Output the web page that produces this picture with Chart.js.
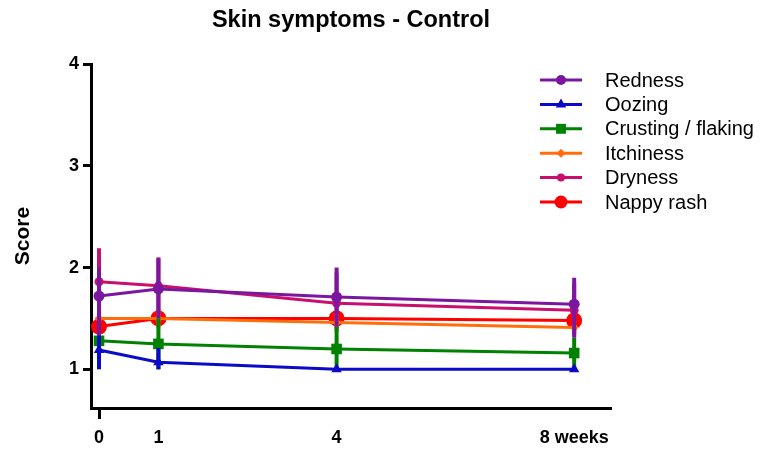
<!DOCTYPE html>
<html><head><meta charset="utf-8">
<script src="https://cdn.jsdelivr.net/npm/chart.js@4.4.1/dist/chart.umd.min.js"></script>
<style>html,body{margin:0;padding:0;background:#fff}</style>
</head><body>
<canvas id="c" width="762" height="449"></canvas>
<script>
// ---- data ----
const weeks = [0, 1, 4, 8];
const xTickLabels = ['0', '1', '4', '8 weeks'];
const yTickValues = [1, 2, 3, 4];
const seriesNames = ['Redness', 'Oozing', 'Crusting / flaking', 'Itchiness', 'Dryness', 'Nappy rash'];

const redness   = [1.72, 1.79, 1.71, 1.64];
const rednessHi = [2.00, 2.09, 2.00, 1.90];
const rednessLo = [1.33, 1.50, 1.42, 1.31];

const oozing    = [1.19, 1.07, 1.00, 1.00];
const oozingHi  = [1.39, 1.21, 1.00, 1.00];
const oozingLo  = [1.00, 1.00, 1.00, 1.00];

const crusting   = [1.28, 1.25, 1.20, 1.16];
const crustingHi = [1.45, 1.50, 1.42, 1.31];
const crustingLo = [1.10, 1.00, 1.00, 1.00];

const itchiness   = [1.50, 1.50, 1.46, 1.41];
const itchinessHi = [1.60, 1.60, 1.55, 1.50];
const itchinessLo = [1.40, 1.40, 1.37, 1.32];

const dryness   = [1.86, 1.82, 1.65, 1.58];
const drynessHi = [2.19, 2.10, 1.95, 1.85];
const drynessLo = [1.53, 1.50, 1.40, 1.35];

const nappy   = [1.42, 1.50, 1.50, 1.48];
const nappyHi = [1.42, 1.50, 1.50, 1.48];
const nappyLo = [1.42, 1.50, 1.50, 1.48];

// ---- styles ----
const FONT = "'Liberation Sans', Arial, sans-serif";
const styles = [
  {color: 'rgb(122,22,160)', pointStyle: 'circle',   radius: 5.5, legendRadius: 5},
  {color: 'rgb(10,10,200)',  pointStyle: 'triangle', radius: 6,   legendRadius: 6},
  {color: 'rgb(0,130,0)',    pointStyle: 'rect',     radius: 7.5, legendRadius: 7},
  {color: 'rgb(255,110,10)', pointStyle: 'rectRot',  radius: 4.5, legendRadius: 4.5},
  {color: 'rgb(200,15,110)', pointStyle: 'circle',   radius: 4.5, legendRadius: 4},
  {color: 'rgb(255,0,0)',    pointStyle: 'circle',   radius: 8,   legendRadius: 6.5}
];
const values = [redness, oozing, crusting, itchiness, dryness, nappy];
const highs  = [rednessHi, oozingHi, crustingHi, itchinessHi, drynessHi, nappyHi];
const lows   = [rednessLo, oozingLo, crustingLo, itchinessLo, drynessLo, nappyLo];

const datasets = seriesNames.map((name, i) => ({
  label: name,
  data: weeks.map((w, j) => ({x: w, y: values[i][j]})),
  errHi: highs[i],
  errLo: lows[i],
  borderColor: styles[i].color,
  backgroundColor: styles[i].color,
  pointBackgroundColor: styles[i].color,
  pointBorderColor: styles[i].color,
  pointBorderWidth: 0,
  pointStyle: styles[i].pointStyle,
  pointRadius: styles[i].radius,
  legendRadius: styles[i].legendRadius,
  borderWidth: 3,
  tension: 0,
  clip: false
}));

const errorBars = {
  id: 'errorBars',
  beforeDatasetDraw(chart, args) {
    const ds = chart.data.datasets[args.index];
    const y = chart.scales.y;
    const ctx = chart.ctx;
    ctx.save();
    ctx.strokeStyle = ds.borderColor;
    ctx.lineWidth = 4;
    ctx.lineCap = 'butt';
    args.meta.data.forEach((pt, j) => {
      const top = y.getPixelForValue(ds.errHi[j]);
      const bot = y.getPixelForValue(ds.errLo[j]);
      if (Math.abs(bot - top) < 0.5) return;
      ctx.beginPath();
      ctx.moveTo(pt.x, top);
      ctx.lineTo(pt.x, bot);
      ctx.stroke();
    });
    ctx.restore();
  }
};

const sideLegend = {
  id: 'sideLegend',
  afterDraw(chart) {
    const ctx = chart.ctx;
    const x0 = 540, x1 = 582, tx = 605, y0 = 80, dy = 24.4;
    ctx.save();
    chart.data.datasets.forEach((ds, i) => {
      const yy = y0 + i * dy;
      ctx.strokeStyle = ds.borderColor;
      ctx.lineWidth = 3;
      ctx.beginPath();
      ctx.moveTo(x0, yy);
      ctx.lineTo(x1, yy);
      ctx.stroke();
      ctx.fillStyle = ds.borderColor;
      ctx.strokeStyle = ds.borderColor;
      Chart.helpers.drawPoint(ctx, {pointStyle: ds.pointStyle, radius: ds.legendRadius, borderWidth: 0, rotation: 0}, (x0 + x1) / 2, yy);
      ctx.fillStyle = '#000';
      ctx.font = '20px ' + FONT;
      ctx.textAlign = 'left';
      ctx.textBaseline = 'middle';
      ctx.fillText(ds.label, tx, yy + 1);
    });
    ctx.restore();
  }
};

new Chart(document.getElementById('c'), {
  type: 'line',
  data: {datasets},
  plugins: [errorBars, sideLegend],
  options: {
    responsive: false,
    devicePixelRatio: 1,
    animation: false,
    layout: {padding: {left: 0, right: 151, top: 0, bottom: 0}},
    plugins: {
      legend: {display: false},
      tooltip: {enabled: false},
      title: {
        display: true,
        fullSize: false,
        text: 'Skin symptoms - Control',
        color: '#000',
        font: {family: FONT, size: 23.5, weight: 'bold'},
        padding: {top: 6, bottom: 29.8}
      }
    },
    scales: {
      x: {
        type: 'linear',
        min: -0.135,
        max: 8.62,
        afterBuildTicks: s => { s.ticks = weeks.map(v => ({value: v})); },
        afterFit: s => { s.height = 41; },
        border: {display: true, color: '#000', width: 3},
        grid: {
          drawOnChartArea: false,
          drawTicks: true,
          tickLength: 11,
          tickWidth: 3,
          tickColor: c => (c.tick && c.tick.value === 0) ? '#000' : 'rgba(0,0,0,0)'
        },
        ticks: {
          autoSkip: false,
          maxRotation: 0,
          padding: 8,
          color: '#000',
          font: {family: FONT, size: 18, weight: 'bold'},
          callback: v => xTickLabels[weeks.indexOf(v)]
        }
      },
      y: {
        min: 0.62,
        max: 4,
        afterBuildTicks: s => { s.ticks = yTickValues.map(v => ({value: v})); },
        afterFit: s => { s.width = 91; },
        border: {display: true, color: '#000', width: 3},
        grid: {drawOnChartArea: false, drawTicks: true, tickLength: 8, tickWidth: 3, tickColor: '#000'},
        ticks: {
          padding: 4,
          color: '#000',
          font: {family: FONT, size: 18, weight: 'bold'},
          callback: v => String(v)
        },
        title: {
          display: true,
          text: 'Score',
          color: '#000',
          font: {family: FONT, size: 21, weight: 'bold'},
          padding: {top: 11, bottom: 0}
        }
      }
    }
  }
});
</script>
</body></html>
